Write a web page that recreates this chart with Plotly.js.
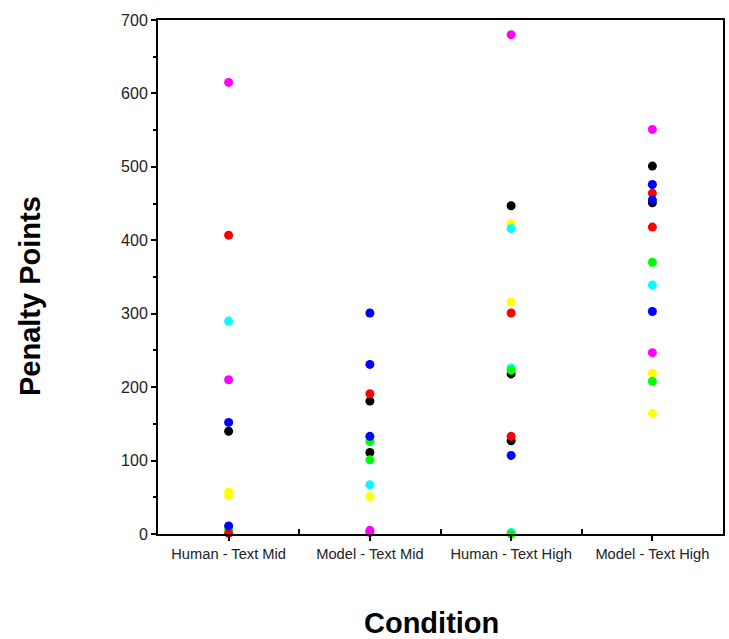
<!DOCTYPE html>
<html>
<head>
<meta charset="utf-8">
<script src="https://cdn.plot.ly/plotly-3.0.1.min.js"></script>
<style>html,body{margin:0;padding:0;background:#fff;}#chart{width:729px;height:639px;}</style>
</head>
<body>
<div id="chart"></div>
<script>
var categories = ["Human - Text Mid", "Model - Text Mid", "Human - Text High", "Model - Text High"];

// Values per colour group: [category index, penalty points]
var magentaX = [0, 0, 1, 1, 2, 3, 3];
var magentaY = [615, 210, 5, 2, 680, 551, 247];
var redX = [0, 0, 1, 2, 2, 3, 3];
var redY = [407, 1, 191, 301, 133, 464, 418];
var cyanX = [0, 1, 2, 2, 2, 3];
var cyanY = [290, 67, 416, 226, 2, 339];
var blueX = [0, 0, 1, 1, 1, 2, 3, 3, 3];
var blueY = [152, 11, 301, 231, 133, 107, 476, 455, 303];
var blackX = [0, 1, 1, 2, 2, 2, 3, 3];
var blackY = [140, 181, 111, 447, 218, 127, 501, 451];
var yellowX = [0, 0, 1, 2, 2, 3, 3];
var yellowY = [57, 52, 51, 423, 316, 219, 164];
var greenX = [0, 1, 1, 2, 2, 3, 3];
var greenY = [6, 126, 101, 223, 0, 370, 208];

var groups = [
  {x: blackX, y: blackY, c: "#000000"},
  {x: yellowX, y: yellowY, c: "#FFFF00"},
  {x: cyanX, y: cyanY, c: "#00FFFF"},
  {x: greenX, y: greenY, c: "#00FF00"},
  {x: redX, y: redY, c: "#FF0000"},
  {x: blueX, y: blueY, c: "#0000FF"},
  {x: magentaX, y: magentaY, c: "#FF00FF"}
];

var traces = groups.map(function(g){
  return {
    type: "scatter", mode: "markers",
    x: g.x.map(function(i){ return categories[i]; }),
    y: g.y,
    marker: {color: g.c, size: 9},
    cliponaxis: false,
    hoverinfo: "x+y"
  };
});

// invisible trace for boundary ticks axis
traces.push({type:"scatter", mode:"markers", x:[-0.5,3.5], y:[0,0], xaxis:"x2", marker:{opacity:0}, hoverinfo:"skip", showlegend:false});

var W = 729, L = 158, R = 6;
var pw = W - L - R;

var layout = {
  width: 729, height: 639,
  margin: {l: L, r: R, t: 20, b: 105},
  paper_bgcolor: "#fff", plot_bgcolor: "#fff",
  showlegend: false,
  font: {family: "Arial, Liberation Sans, sans-serif", color: "#222"},
  xaxis: {
    type: "category", categoryorder: "array", categoryarray: categories,
    range: [-0.5, 3.5],
    showline: true, linecolor: "#000", linewidth: 2, mirror: true,
    showgrid: false, zeroline: false,
    ticks: "outside", ticklen: 5, tickwidth: 2, tickcolor: "#000",
    tickfont: {size: 14.7, color: "#222"}
  },
  xaxis2: {
    overlaying: "x", anchor: "y", type: "linear", range: [-0.5, 3.5],
    tickvals: [-0.5, 0.5, 1.5, 2.5, 3.5], showticklabels: false,
    ticks: "inside", ticklen: 5, tickwidth: 2, tickcolor: "#000",
    showgrid: false, zeroline: false, showline: false
  },
  yaxis: {
    range: [0, 700], dtick: 100,
    showline: true, linecolor: "#000", linewidth: 2, mirror: true,
    showgrid: false, zeroline: false,
    ticks: "outside", ticklen: 5, tickwidth: 2, tickcolor: "#000",
    minor: {dtick: 50, ticks: "outside", ticklen: 3, tickwidth: 2, tickcolor: "#000"},
    tickfont: {size: 16, color: "#222"}
  },
  annotations: [
    {text: "<b>Penalty Points</b>", xref: "paper", yref: "paper",
     x: (30 - L) / pw, y: (639 - 105 - 296) / 514, xanchor: "center", yanchor: "middle",
     textangle: -90, showarrow: false, font: {size: 29, color: "#000"}},
    {text: "<b>Condition</b>", xref: "paper", yref: "paper",
     x: (431 - L) / pw, y: -(623 - 534) / 514, xanchor: "center", yanchor: "middle",
     showarrow: false, font: {size: 29, color: "#000"}}
  ]
};

Plotly.newPlot("chart", traces, layout, {displayModeBar: false, staticPlot: true});
</script>
</body>
</html>
